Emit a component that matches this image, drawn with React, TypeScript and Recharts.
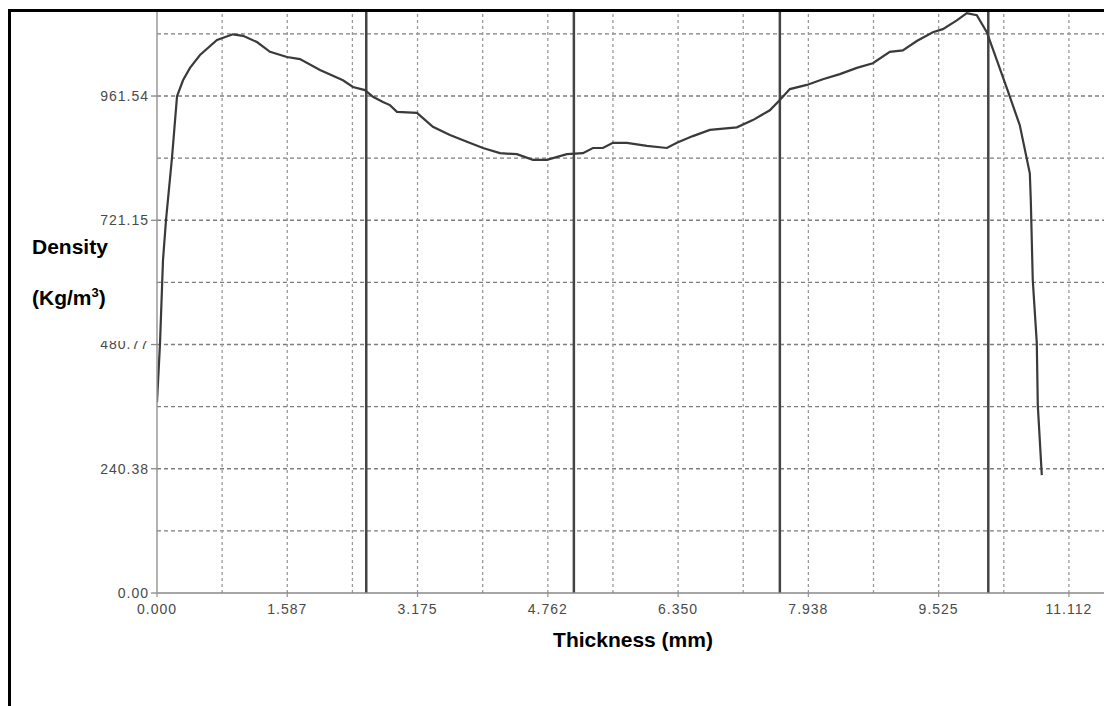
import React from "react";
import { LineChart, Line, XAxis, YAxis, ReferenceLine } from "recharts";

// Thickness (mm) and density (kg/m3) read from the profile
const thicknessMm = [
  0, 0.037, 0.073, 0.11, 0.183, 0.244, 0.317, 0.402, 0.524, 0.731,
  0.926, 1.048, 1.218, 1.377, 1.584, 1.742, 1.986, 2.266, 2.388, 2.534,
  2.632, 2.753, 2.839, 2.924, 3.168, 3.362, 3.57, 3.777, 3.972, 4.179,
  4.386, 4.581, 4.751, 4.995, 5.19, 5.312, 5.434, 5.555, 5.726, 5.97,
  6.213, 6.335, 6.53, 6.737, 7.066, 7.261, 7.468, 7.59, 7.712, 7.919,
  8.114, 8.321, 8.528, 8.723, 8.93, 9.088, 9.259, 9.454, 9.576, 9.746,
  9.868, 9.99, 10.112, 10.234, 10.356, 10.514, 10.636, 10.648, 10.672, 10.721,
  10.733, 10.782,
];
const densityKgM3 = [
  369, 484, 644, 722, 843, 961, 992, 1016, 1041, 1070,
  1081, 1078, 1066, 1047, 1037, 1033, 1012, 992, 979, 973,
  960, 950, 944, 931, 929, 902, 886, 873, 861, 851,
  849, 838, 838, 849, 851, 861, 861, 871, 871, 865,
  861, 871, 884, 896, 901, 915, 934, 954, 975, 983,
  994, 1004, 1016, 1025, 1047, 1050, 1068, 1085, 1091, 1108,
  1122, 1118, 1085, 1031, 977, 905, 812, 760, 605, 484,
  364, 228,
];

const xTicks = [0, 1.5875, 3.175, 4.7625, 6.35, 7.9375, 9.525, 11.1125];
const xTickLabels = ["0.000", "1.587", "3.175", "4.762", "6.350", "7.938", "9.525", "11.112"];
const yTicks = [0, 240.38, 480.77, 721.15, 961.54];
const yTickLabels = ["0.00", "240.38", "480.77", "721.15", "961.54"];
const xGrid = [0.79375, 1.5875, 2.38125, 3.175, 3.96875, 4.7625, 5.55625, 6.35, 7.14375, 7.9375, 8.73125, 9.525, 10.31875, 11.1125];
const yGrid = [120.19, 240.38, 360.58, 480.77, 600.96, 721.15, 841.35, 961.54, 1081.73];
const layerBoundaries = [2.55, 5.08, 7.59, 10.13];

const xDomain = [0, 11.54];
const yDomain = [0, 1128];

const data = thicknessMm.map((x, i) => ({ x, density: densityKgM3[i] }));

const FONT = '"Liberation Sans", Arial, Helvetica, sans-serif';
const tickStyle = { fontSize: 14, fill: "#4a4a4a", fontFamily: FONT, letterSpacing: 1 };

export default function App() {
  return (
    <div style={{ position: "absolute", left: 0, top: 0, width: 1104, height: 706, background: "#fff", overflow: "hidden" }}>
      <LineChart
        width={1104}
        height={706}
        data={data}
        margin={{ top: 10, right: 0, bottom: 83, left: 97 }}
      >
        {yGrid.map((v) => (
          <ReferenceLine key={"hy" + v} y={v} stroke="#7d7d7d" strokeWidth={1.4} strokeDasharray="4 3" />
        ))}
        {xGrid.map((v) => (
          <ReferenceLine key={"vx" + v} x={v} stroke="#9a9a9a" strokeWidth={1.3} strokeDasharray="3 3" />
        ))}
        <XAxis
          type="number"
          dataKey="x"
          domain={xDomain}
          ticks={xTicks}
          interval={0}
          allowDataOverflow
          height={30}
          tickFormatter={(v: number) => xTickLabels[xTicks.indexOf(v)] ?? String(v)}
          tick={tickStyle}
          tickSize={4}
          tickMargin={7}
          axisLine={{ stroke: "#888", strokeWidth: 1.5 }}
          tickLine={{ stroke: "#999", strokeWidth: 1.3 }}
        />
        <YAxis
          type="number"
          domain={yDomain}
          ticks={yTicks}
          interval={0}
          allowDataOverflow
          width={60}
          tickFormatter={(v: number) => yTickLabels[yTicks.indexOf(v)] ?? String(v)}
          tick={tickStyle}
          tickSize={6}
          tickMargin={2}
          axisLine={{ stroke: "#999", strokeWidth: 1.5 }}
          tickLine={{ stroke: "#888", strokeWidth: 1.3 }}
        />
        {layerBoundaries.map((v) => (
          <ReferenceLine key={"lb" + v} x={v} stroke="#444" strokeWidth={2.5} />
        ))}
        <Line
          type="linear"
          dataKey="density"
          stroke="#3a3a3a"
          strokeWidth={2.2}
          dot={false}
          isAnimationActive={false}
        />
      </LineChart>

      {/* frame */}
      <div style={{ position: "absolute", left: 8, top: 9, right: 0, height: 3, background: "#000" }} />
      <div style={{ position: "absolute", left: 8, top: 9, bottom: 0, width: 3, background: "#000" }} />

      {/* y-axis title block */}
      <div style={{ position: "absolute", left: 12, top: 226, width: 138, height: 115, background: "#fff" }}>
        <div style={{ position: "absolute", left: 20, top: 9, fontFamily: FONT, fontWeight: "bold", fontSize: 21, lineHeight: "24px", color: "#000", whiteSpace: "nowrap" }}>
          Density
        </div>
        <div style={{ position: "absolute", left: 20, top: 60, fontFamily: FONT, fontWeight: "bold", fontSize: 21, lineHeight: "24px", color: "#000", whiteSpace: "nowrap" }}>
          (Kg/m<sup style={{ fontSize: 13, lineHeight: 0 }}>3</sup>)
        </div>
      </div>

      {/* x-axis title */}
      <div style={{ position: "absolute", left: 633, top: 628, transform: "translateX(-50%)", fontFamily: FONT, fontWeight: "bold", fontSize: 21, lineHeight: "24px", color: "#000", whiteSpace: "nowrap" }}>
        Thickness (mm)
      </div>
    </div>
  );
}
